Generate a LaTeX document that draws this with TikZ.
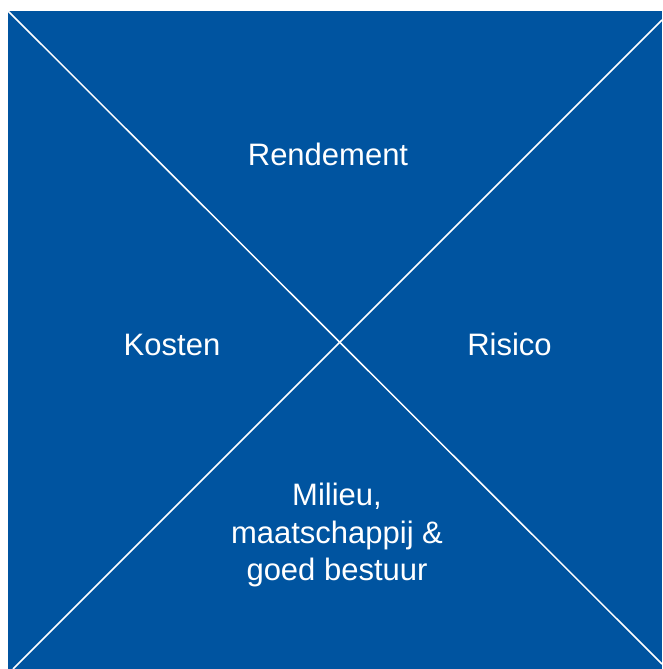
\documentclass[tikz,border=0pt]{standalone}
\usepackage{fontspec}
\setmainfont{Liberation Sans}
\definecolor{panelblue}{RGB}{0,84,160}
\begin{document}
\begin{tikzpicture}[x=1pt,y=1pt,
  label/.style={text=white,font=\fontsize{31}{37.5}\selectfont,inner sep=0pt},
  diag/.style={draw=white,line width=1.5pt}]
\useasboundingbox (0,0) rectangle (662,669);
\fill[white] (0,0) rectangle (662,669);
\fill[panelblue] (8,0) rectangle (662,658);
\coordinate (tl) at (8,658);
\coordinate (br) at (662,5);
\coordinate (bl) at (13,0);
\coordinate (tr) at (662,649);
\draw[diag] (tl) -- (br);
\draw[diag] (bl) -- (tr);
\node[label,anchor=base] (rend) at (328,503) {Rendement};
\node[label,anchor=base] (kost) at (172,313) {Kosten};
\node[label,anchor=base] (ris) at (509.5,313) {Risico};
\node[label,align=center] (mil) at (337,134) {Milieu,\\maatschappij \&\\goed bestuur};
\end{tikzpicture}
\end{document}
